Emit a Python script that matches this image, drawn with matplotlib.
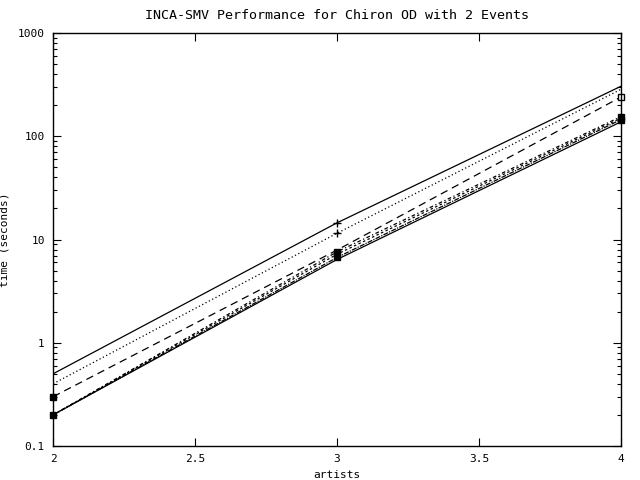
import numpy as np
import matplotlib.pyplot as plt

artists = [2, 3, 4]

# times (seconds) per run
t_solid = [0.5, 14.5, 305]
t_dotted = [0.4, 11.5, 285]
t_dashed = [0.3, 7.9, 240]
t_c1 = [0.2, 7.6, 155]
t_c2 = [0.2, 7.2, 150]
t_c3 = [0.2, 6.7, 145]
t_c4 = [0.2, 6.4, 138]

plt.rcParams['font.family'] = 'DejaVu Sans Mono'
plt.rcParams['font.size'] = 8

fig = plt.figure(figsize=(6.4, 4.8), dpi=100)
ax = fig.add_axes([0.083, 0.071, 0.887, 0.860])

lw = 0.9
ax.plot(artists, t_solid, color='black', lw=lw, ls='-')
ax.plot(artists[1:2], t_solid[1:2], 'k+', ms=6, clip_on=False)
ax.plot(artists, t_dotted, color='black', lw=lw, ls=(0, (1, 2)))
ax.plot(artists[1:2], t_dotted[1:2], 'k+', ms=6, clip_on=False)
ax.plot(artists, t_dashed, color='black', lw=lw, ls=(0, (6, 4)))
ax.plot(artists[:1], t_dashed[:1], 'ks', ms=5, clip_on=False)
ax.plot(artists[2:], t_dashed[2:], 's', mfc='white', mec='black', ms=5, clip_on=False)
ax.plot(artists, t_c1, color='black', lw=lw, ls=(0, (3, 2, 1, 2)))
ax.plot(artists, t_c2, color='black', lw=lw, ls=(0, (2, 2)))
ax.plot(artists, t_c3, color='black', lw=lw, ls=(0, (4, 1, 1, 1)))
ax.plot(artists, t_c4, color='black', lw=lw, ls='-')
ax.plot(artists, t_c1, 'ks', ms=5, ls='none', clip_on=False)
ax.plot(artists[1:], t_c3[1:], 'ks', ms=5, ls='none', clip_on=False)

ax.set_yscale('log')
ax.set_xlim(2, 4)
ax.set_ylim(0.1, 1000)
ax.set_xticks([2, 2.5, 3, 3.5, 4])
ax.set_xticklabels(['2', '2.5', '3', '3.5', '4'])
ax.set_yticks([0.1, 1, 10, 100, 1000])
ax.set_yticklabels(['0.1', '1', '10', '100', '1000'])
ax.tick_params(which='both', direction='in', top=True, right=True, width=0.8)
ax.tick_params(which='major', length=6, pad=6)
ax.tick_params(which='minor', length=3)
for s in ax.spines.values():
    s.set_linewidth(1.0)

ax.set_title('INCA-SMV Performance for Chiron OD with 2 Events', pad=10)
ax.set_xlabel('artists', labelpad=4)
ax.set_ylabel('time (seconds)', labelpad=6)

fig.savefig('out.png', dpi=100)
